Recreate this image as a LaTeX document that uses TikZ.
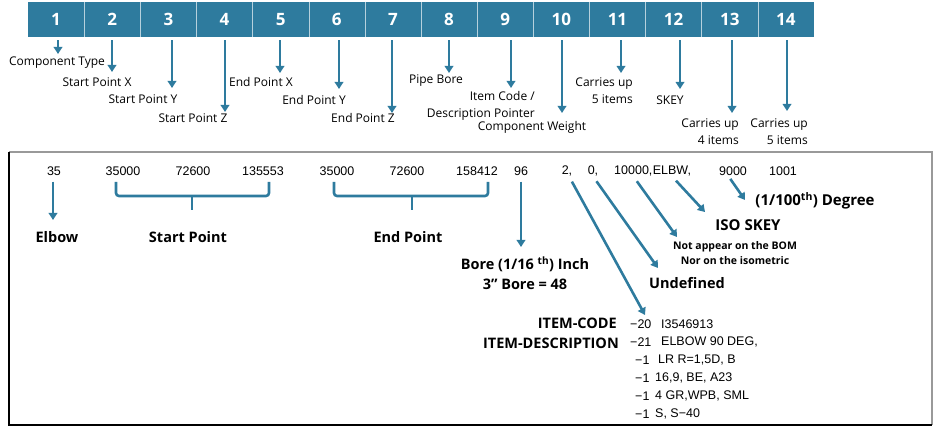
\documentclass[tikz,border=0pt]{standalone}
\usepackage{fontspec}
\setmainfont{Open Sans}
\newfontfamily\datafont{Liberation Sans}
\usetikzlibrary{arrows.meta}
\definecolor{pcfblue}{RGB}{46,123,158}
\tikzset{
  cell/.style={fill=pcfblue, text=white, font=\bfseries\fontsize{17}{17}\selectfont,
    minimum width=56.14pt, minimum height=35pt, inner sep=0pt},
  lbl/.style={font=\fontsize{12}{16.5}\selectfont, inner sep=0pt},
  tag/.style={font=\bfseries\fontsize{14.5}{20}\selectfont, inner sep=0pt},
  note/.style={font=\bfseries\fontsize{10.5}{15}\selectfont, inner sep=0pt},
  val/.style={font=\datafont\fontsize{12.5}{12.5}\selectfont, inner sep=0pt},
  arr/.style={pcfblue, line width=2.6pt, -{Triangle[width=8.5pt,length=7pt]}},
  brace/.style={pcfblue, line width=2.6pt, rounded corners=3pt},
}
\begin{document}
\begin{tikzpicture}[x=1pt,y=-1pt]
  \useasboundingbox (0,0) rectangle (933,427);
  \foreach \i in {1,...,14}
    \node[cell] (c\i) at ({28+56.14*(\i-0.5)},19.5) {\i};
  \foreach \i in {1,...,13}
    \draw[white!65!pcfblue, line width=0.8pt] (c\i.north east) -- (c\i.south east);
  \draw
    (57,63) node[lbl] (l1) {Component Type}
    (97,82) node[lbl] (l2) {Start Point X}
    (143,99) node[lbl] (l3) {Start Point Y}
    (193,118) node[lbl] (l4) {Start Point Z}
    (261,82) node[lbl] (l5) {End Point X}
    (314,100) node[lbl] (l6) {End Point Y}
    (363,118) node[lbl] (l7) {End Point Z}
    (436,81) node[lbl] (l8) {Pipe Bore}
    (535,106) node[lbl, anchor=east, align=right] (l9) {Item Code /\\Description Pointer}
    (532,127) node[lbl] (l10) {Component Weight}
    (633,90.5) node[lbl, anchor=east, align=right] (l11) {Carries up\\5 items}
    (670,100) node[lbl] (l12) {SKEY}
    (739,131.5) node[lbl, anchor=east, align=right] (l13) {Carries up\\4 items}
    (808,131.5) node[lbl, anchor=east, align=right] (l14) {Carries up\\5 items};
  \foreach \i/\x/\y in {1/58/54, 2/112/72, 3/172/88, 4/225/112, 5/280/73, 6/339/89,
      7/392/113, 8/449/73, 9/511/88, 10/562/113, 11/621/73, 12/680/89, 13/732/113, 14/787/111}
    \coordinate (t\i) at (\x,\y);
  \foreach \i in {1,...,14}
    \draw[arr, shorten <=3pt] (t\i |- c\i.south) -- (t\i);
  \draw[gray!80, line width=1.2pt] (9,152) -- (932,152) -- (932,425);
  \draw[line width=1.5pt] (9,152) -- (9,425) -- (932,425);
  \draw
    (54,171) node[val] (n1) {35}
    (123,171) node[val] (n2) {35000}
    (193,171) node[val] (n3) {72600}
    (263,171) node[val] (n4) {135553}
    (337,171) node[val] (n5) {35000}
    (407,171) node[val] (n6) {72600}
    (477,171) node[val] (n7) {158412}
    (521,171) node[val] (n8) {96}
    (567,171) node[val] (n9) {2,}
    (593,171) node[val] (n10) {0,}
    (614,171) node[val, anchor=west] (n11) {10000,}
    (n11.east) node[val, anchor=west] (n12) {ELBW,}
    (733,171) node[val] (n13) {9000}
    (783,171) node[val] (n14) {1001};
  \draw[brace] (116,182) |- (269,196) -- (269,182);
  \draw[brace] (192,196) -- (192,210);
  \draw[brace] (334,182) |- (488,196) -- (488,182);
  \draw[brace] (412,196) -- (412,210);
  \draw
    (57,237) node[tag] (elbow) {Elbow}
    (188,237) node[tag] (spt) {Start Point}
    (408,237) node[tag] (ept) {End Point}
    (525,273) node[tag, align=center] (bore) {Bore (1/16 \textsuperscript{th}) Inch\\3\textquotedblright\ Bore = 48}
    (687,283) node[tag] (undef) {Undefined}
    (735,253.5) node[note, align=center] (bom) {Not appear on the BOM\\Nor on the isometric}
    (748,225) node[tag, font=\bfseries\fontsize{15}{15}\selectfont] (skey) {ISO SKEY}
    (815,201) node[tag, font=\bfseries\fontsize{15}{15}\selectfont] (deg) {(1/100\textsuperscript{th}) Degree};
  \coordinate (e1) at (53,220);
  \coordinate (e8) at (521,247);
  \coordinate (e9) at (645,315);
  \coordinate (e10) at (658,268);
  \coordinate (e11) at (677,237);
  \coordinate (e12) at (705,212);
  \coordinate (e13) at (745,200);
  \draw[arr, shorten <=6pt] (e1 |- n1.south) -- (e1);
  \draw[arr, shorten <=6pt] (n8.south) -- (e8);
  \draw[arr, shorten <=6pt] ([xshift=2pt]n9.south) -- (e9);
  \draw[arr, shorten <=6pt] (n10.south) -- (e10);
  \draw[arr, shorten <=6pt] (n11.south) -- (e11);
  \draw[arr, shorten <=6pt] (n12.south) -- (e12);
  \draw[arr, shorten <=4pt] ([xshift=-5pt]n13.south) -- (e13);
  \draw
    (617,323) node[tag, anchor=east] (icode) {ITEM-CODE}
    (619,343) node[tag, anchor=east] (idesc) {ITEM-DESCRIPTION};
  \draw
    (630,324) node[val, anchor=west] (k1) {−20}
    (630,342) node[val, anchor=west] (k2) {−21}
    (635,360) node[val, anchor=west] (k3) {−1}
    (635,378) node[val, anchor=west] (k4) {−1}
    (635,396) node[val, anchor=west] (k5) {−1}
    (635,414) node[val, anchor=west] (k6) {−1}
    (661,324) node[val, anchor=west] (v1) {I3546913}
    (661,342) node[val, anchor=west] (v2) {ELBOW 90 DEG,}
    (658,360) node[val, anchor=west] (v3) {LR R=1,5D, B}
    (655,378) node[val, anchor=west] (v4) {16,9, BE, A23}
    (655,396) node[val, anchor=west] (v5) {4 GR,WPB, SML}
    (655,414) node[val, anchor=west] (v6) {S, S−40};
\end{tikzpicture}
\end{document}
